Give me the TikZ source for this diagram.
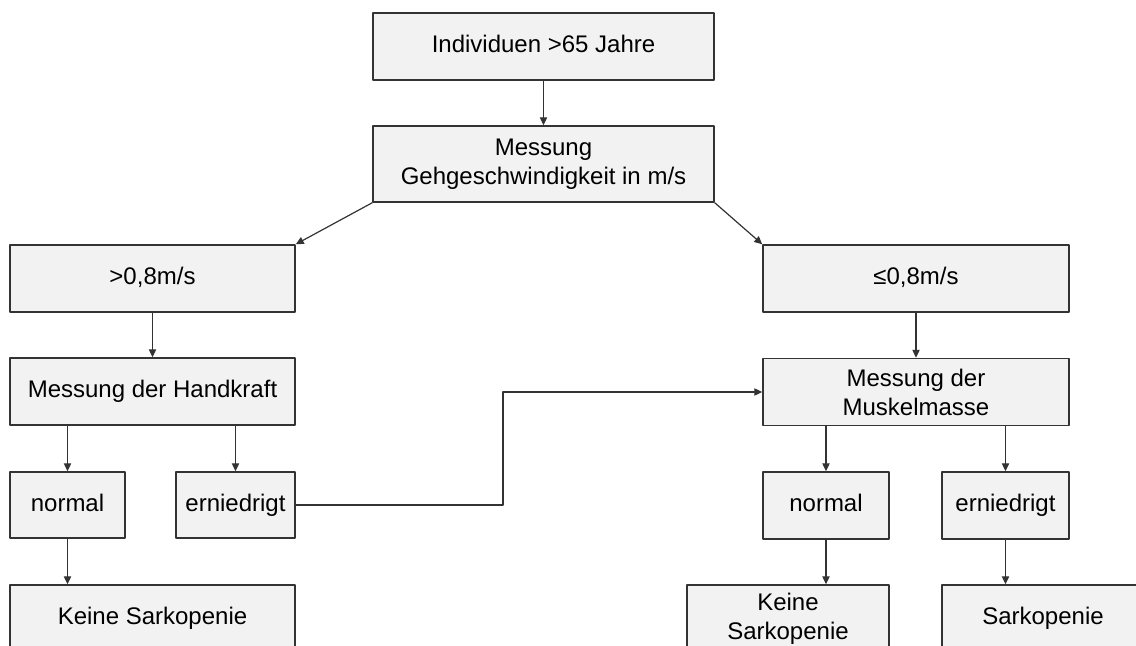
\documentclass[tikz,border=0pt]{standalone}
\usepackage{fontspec}
\setmainfont{Liberation Sans}
\usetikzlibrary{arrows.meta}
\definecolor{boxgray}{rgb}{0.95,0.95,0.95}
\definecolor{linegray}{rgb}{0.2,0.2,0.2}
\tikzset{
  kasten/.style={draw=linegray,line width=1.1pt,fill=boxgray,rectangle,inner sep=0pt,
    align=center,text=black,font=\fontsize{18}{21.75}\selectfont},
  groesse/.style 2 args={minimum width=#1*0.75pt,minimum height=#2*0.75pt},
  einzeilig/.style={text height=13pt,text depth=4pt},
  pfeil/.style={-{Triangle[length=6pt,width=5.5pt]},line width=0.9pt,color=linegray}
}

\begin{document}
\begin{tikzpicture}[line cap=round,line join=round,x=0.75pt,y=-0.75pt]
	\useasboundingbox (0,0) rectangle (1136,646);
	\clip (0,0) rectangle (1136,646);
	% oben
	\node[kasten,einzeilig,groesse={341}{67}] (indiv) at (543.5,46.5) {Individuen >65 Jahre};
	\node[kasten,groesse={341}{76}] (gehen) at (543.5,164) {Messung\\Gehgeschwindigkeit in m/s};
	% links
	\node[kasten,einzeilig,groesse={285}{67}] (schnell) at (152.5,278.5) {>0,8m/s};
	\node[kasten,einzeilig,groesse={285}{67}] (hand) at (152.5,391.5) {Messung der Handkraft};
	\node[kasten,einzeilig,groesse={115}{66}] (hnormal) at (67.5,505) {normal};
	\node[kasten,einzeilig,groesse={119}{66}] (hniedrig) at (235.5,505) {erniedrigt};
	\node[kasten,einzeilig,groesse={285}{67}] (keine1) at (152.5,618.5) {Keine Sarkopenie};
	% rechts
	\node[kasten,einzeilig,groesse={306}{67}] (langsam) at (916,278.5) {≤0,8m/s};
	\node[kasten,groesse={306}{67}] (muskel) at (916,392) {Messung der\\Muskelmasse};
	\node[kasten,einzeilig,groesse={126}{67}] (mnormal) at (826,505.5) {normal};
	\node[kasten,einzeilig,groesse={127}{67}] (mniedrig) at (1005.5,505.5) {erniedrigt};
	\node[kasten,groesse={202}{67}] (keine2) at (788,618.5) {Keine\\Sarkopenie};
	\node[kasten,einzeilig,groesse={202}{67}] (sarko) at (1043,618.5) {Sarkopenie};

	\coordinate (knick) at (503,505);

	\draw [pfeil] (indiv) -- (gehen);
	\draw [pfeil] (gehen.south west) -- (schnell.north east);
	\draw [pfeil] (gehen.south east) -- (langsam.north west);
	\draw [pfeil] (schnell) -- (hand);
	\draw [pfeil] (hnormal.north |- hand.south) -- (hnormal.north);
	\draw [pfeil] (hniedrig.north |- hand.south) -- (hniedrig.north);
	\draw [pfeil] (hnormal.south) -- (hnormal.south |- keine1.north);
	\draw [pfeil] (hniedrig.east) -- (knick) |- (muskel.west);
	\draw [pfeil] (langsam) -- (muskel);
	\draw [pfeil] (mnormal.north |- muskel.south) -- (mnormal.north);
	\draw [pfeil] (mniedrig.north |- muskel.south) -- (mniedrig.north);
	\draw [pfeil] (mnormal.south) -- (mnormal.south |- keine2.north);
	\draw [pfeil] (mniedrig.south) -- (mniedrig.south |- sarko.north);
\end{tikzpicture}
\end{document}
